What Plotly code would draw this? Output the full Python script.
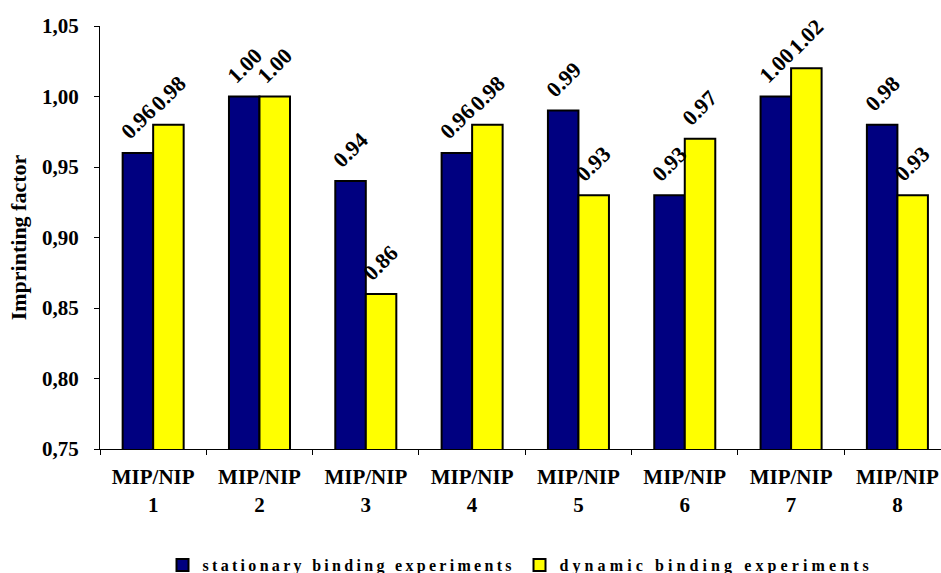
import plotly.graph_objects as go

# Imprinting factors (MIP/NIP ratio) per polymer pair
categories = ["MIP/NIP<br>1", "MIP/NIP<br>2", "MIP/NIP<br>3", "MIP/NIP<br>4",
              "MIP/NIP<br>5", "MIP/NIP<br>6", "MIP/NIP<br>7", "MIP/NIP<br>8"]
stationary = [0.96, 1.00, 0.94, 0.96, 0.99, 0.93, 1.00, 0.98]
dynamic = [0.98, 1.00, 0.86, 0.98, 0.93, 0.97, 1.02, 0.93]
y_ticks = [0.75, 0.80, 0.85, 0.90, 0.95, 1.00, 1.05]

FONT = "Liberation Serif, Times New Roman, serif"
label_font = dict(family=FONT, size=22, color="black", weight="bold")

series = [
    ("stationary binding experiments", stationary, "#000080", -15),
    ("dynamic binding experiments", dynamic, "#FFFF00", 15),
]

fig = go.Figure()
for name, vals, color, shift in series:
    fig.add_trace(go.Bar(
        x=categories,
        y=vals,
        name=name,
        marker=dict(color=color, line=dict(color="black", width=2)),
        cliponaxis=False,
    ))
    # value labels, tilted 45 degrees above each bar
    for cat, v in zip(categories, vals):
        fig.add_annotation(
            x=cat, y=v, text=f"{v:.2f}",
            xref="x", yref="y",
            xshift=shift, yshift=6,
            xanchor="center", yanchor="bottom",
            textangle=-45, showarrow=False,
            font=label_font,
        )

fig.update_layout(
    width=941,
    height=573,
    margin=dict(l=100, r=0, t=26, b=124),
    paper_bgcolor="white",
    plot_bgcolor="white",
    barmode="group",
    bargap=0.426,
    bargroupgap=0,
    separators=",.",
    font=dict(family=FONT, color="black"),
    showlegend=True,
    legend=dict(
        orientation="h",
        xref="container",
        yref="container",
        x=0.1727,
        y=0.014,
        xanchor="left",
        yanchor="middle",
        entrywidth=312,
        entrywidthmode="pixels",
        font=dict(family=FONT, size=16, color="black", weight="bold"),
        bgcolor="rgba(0,0,0,0)",
    ),
)

fig.update_xaxes(
    range=[-0.5, 7.41],
    showline=True,
    linecolor="black",
    linewidth=1,
    ticks="outside",
    tickson="boundaries",
    ticklen=5,
    tickcolor="black",
    showgrid=False,
    ticklabelstandoff=9,
    tickfont=dict(family=FONT, size=21, color="black", weight="bold"),
)

fig.update_yaxes(
    range=[0.75, 1.05],
    tickvals=y_ticks,
    tickformat=".2f",
    showline=True,
    linecolor="black",
    linewidth=1,
    ticks="outside",
    ticklen=5,
    tickcolor="black",
    showgrid=False,
    zeroline=False,
    ticklabelstandoff=11,
    tickfont=dict(family=FONT, size=21, color="black", weight="bold"),
    title=dict(text="Imprinting factor",
               font=dict(family=FONT, size=22, color="black", weight="bold"),
               standoff=9),
)

# spaced-out legend lettering, one spacing per entry
spacing_js = (
    "var sp=['3.3px','4.1px'];"
    "document.querySelectorAll('.legendtext').forEach(function(t,i){"
    "t.style.letterSpacing=sp[i%2];});"
)
fig.write_html("out.html", post_script=spacing_js)
